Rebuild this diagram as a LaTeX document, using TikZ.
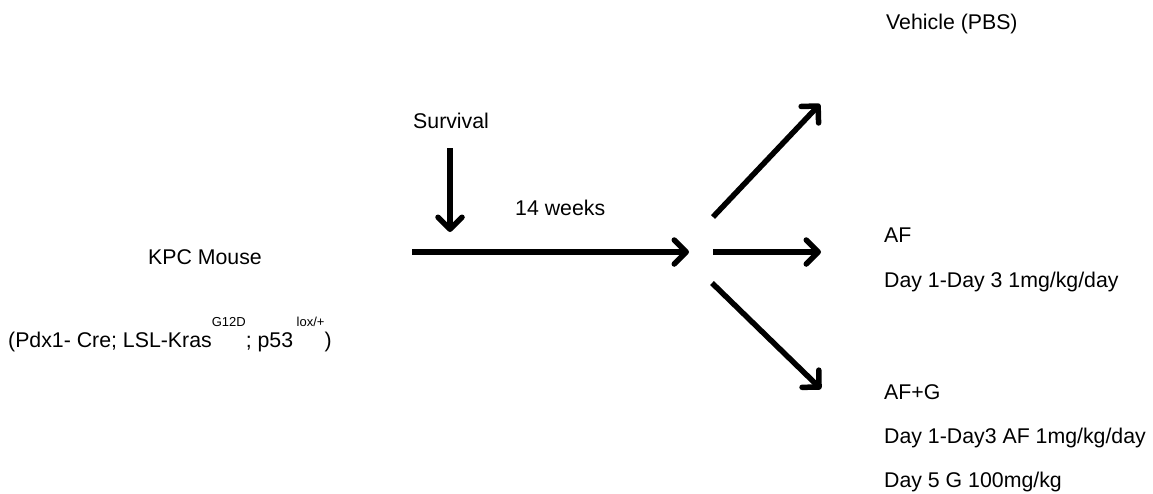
\documentclass[tikz,border=0pt]{standalone}
\usepackage{fontspec}
\setmainfont{Liberation Sans}
\usetikzlibrary{arrows.meta}
\newcommand{\mysup}[1]{\raisebox{21pt}{\fontsize{13}{13}\selectfont #1}}
\begin{document}
\begin{tikzpicture}[x=1pt,y=-1pt,
  lbl/.style={anchor=base west,inner sep=0pt,font=\fontsize{21.3}{25}\selectfont},
  thickarrow/.style={line width=5.5pt,-{Straight Barb[length=12pt,width=24pt,line width=5.5pt,round]}}]
\useasboundingbox (0,0) rectangle (1153,493);
% texts
\node[lbl] (vehicle) at (886,29) {Vehicle (PBS)};
\node[lbl] (survival) at (413,128) {Survival};
\node[lbl] (weeks) at (515,215) {14 weeks};
\node[lbl] (kpc) at (148,264) {KPC Mouse};
\node[lbl] (geno) at (8,347) {(Pdx1- Cre; LSL-Kras\mysup{G12D}; p53\,\mysup{lox/+})};
\node[lbl] (af) at (884,242) {AF};
\node[lbl] (afdose) at (884,287) {Day 1-Day 3 1mg/kg/day};
\node[lbl] (afg) at (884,399) {AF+G};
\node[lbl] (afgdose1) at (884,443) {Day 1-Day3 AF 1mg/kg/day};
\node[lbl] (afgdose2) at (884,487) {Day 5 G 100mg/kg};
% arrow coordinates
\coordinate (s0) at (450,148);
\coordinate (s1) at (450,232);
\coordinate (m0) at (412,252);
\coordinate (m1) at (689,252);
\coordinate (b0) at (713,252);
\coordinate (b1) at (821,252);
\coordinate (u0) at (713,217);
\coordinate (u1) at (820,104);
\coordinate (d0) at (712,283);
\coordinate (d1) at (821,389);
\draw[thickarrow] (s0) -- (s1);
\draw[thickarrow] (m0) -- (m1);
\draw[thickarrow] (b0) -- (b1);
\draw[thickarrow] (u0) -- (u1);
\draw[thickarrow] (d0) -- (d1);
\end{tikzpicture}
\end{document}
